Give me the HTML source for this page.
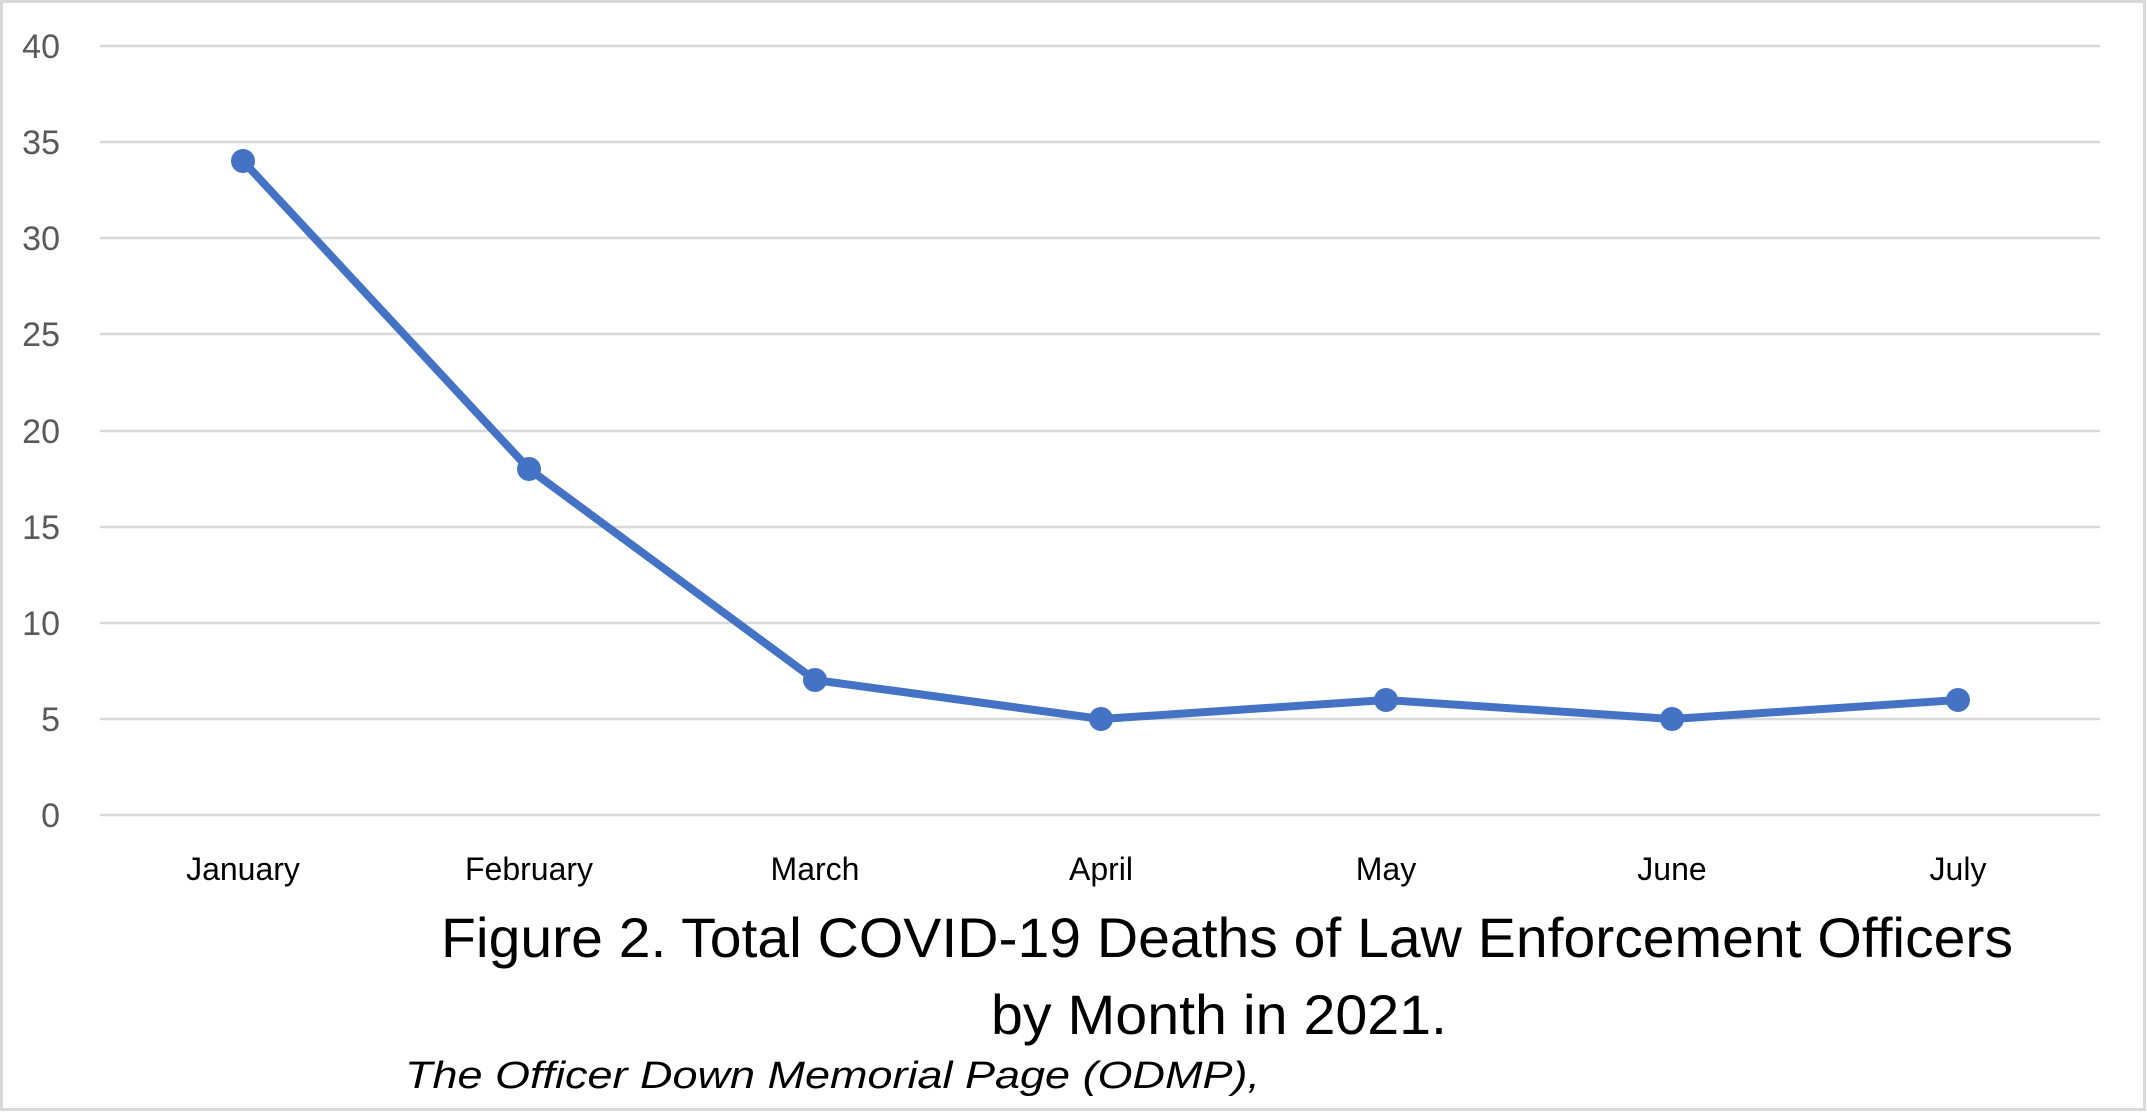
<!DOCTYPE html>
<html><head><meta charset="utf-8"><style>
html,body{margin:0;padding:0;background:#fff}
svg{display:block}
</style></head><body>
<svg width="2147" height="1112" viewBox="0 0 2147 1112" xmlns="http://www.w3.org/2000/svg" font-family="Liberation Sans, sans-serif">
<rect x="1.5" y="1.5" width="2143" height="1108" fill="#fff" stroke="#d9d9d9" stroke-width="3"/>
<g stroke="#d9d9d9" stroke-width="2.5">
<line x1="100" y1="46" x2="2100" y2="46"/>
<line x1="100" y1="142" x2="2100" y2="142"/>
<line x1="100" y1="238" x2="2100" y2="238"/>
<line x1="100" y1="334" x2="2100" y2="334"/>
<line x1="100" y1="431" x2="2100" y2="431"/>
<line x1="100" y1="527" x2="2100" y2="527"/>
<line x1="100" y1="623" x2="2100" y2="623"/>
<line x1="100" y1="719" x2="2100" y2="719"/>
<line x1="100" y1="815" x2="2100" y2="815"/>
</g>
<g fill="#595959" font-size="34" text-anchor="end">
<text x="60" y="58">40</text>
<text x="60" y="154">35</text>
<text x="60" y="250">30</text>
<text x="60" y="346">25</text>
<text x="60" y="443">20</text>
<text x="60" y="539">15</text>
<text x="60" y="635">10</text>
<text x="60" y="731">5</text>
<text x="60" y="827">0</text>
</g>
<polyline fill="none" stroke="#4472c4" stroke-width="8" stroke-linejoin="round" points="243,161 529,469 815,680 1101,719 1386,700 1672,719 1958,700"/>
<g fill="#4472c4">
<circle cx="243" cy="161" r="12"/><circle cx="529" cy="469" r="12"/><circle cx="815" cy="680" r="12"/><circle cx="1101" cy="719" r="12"/><circle cx="1386" cy="700" r="12"/><circle cx="1672" cy="719" r="12"/><circle cx="1958" cy="700" r="12"/>
</g>
<g fill="#000" font-size="32" text-anchor="middle">
<text x="243" y="880">January</text>
<text x="529" y="880">February</text>
<text x="815" y="880">March</text>
<text x="1101" y="880">April</text>
<text x="1386" y="880">May</text>
<text x="1672" y="880">June</text>
<text x="1958" y="880">July</text>
</g>
<text x="441" y="957" font-size="56" textLength="1572" lengthAdjust="spacingAndGlyphs">Figure 2. Total COVID-19 Deaths of Law Enforcement Officers</text>
<text x="991" y="1034" font-size="56" textLength="456" lengthAdjust="spacingAndGlyphs">by Month in 2021.</text>
<text x="405" y="1088" font-size="38" font-style="italic" textLength="855" lengthAdjust="spacingAndGlyphs">The Officer Down Memorial Page (ODMP),</text>
</svg>
</body></html>
